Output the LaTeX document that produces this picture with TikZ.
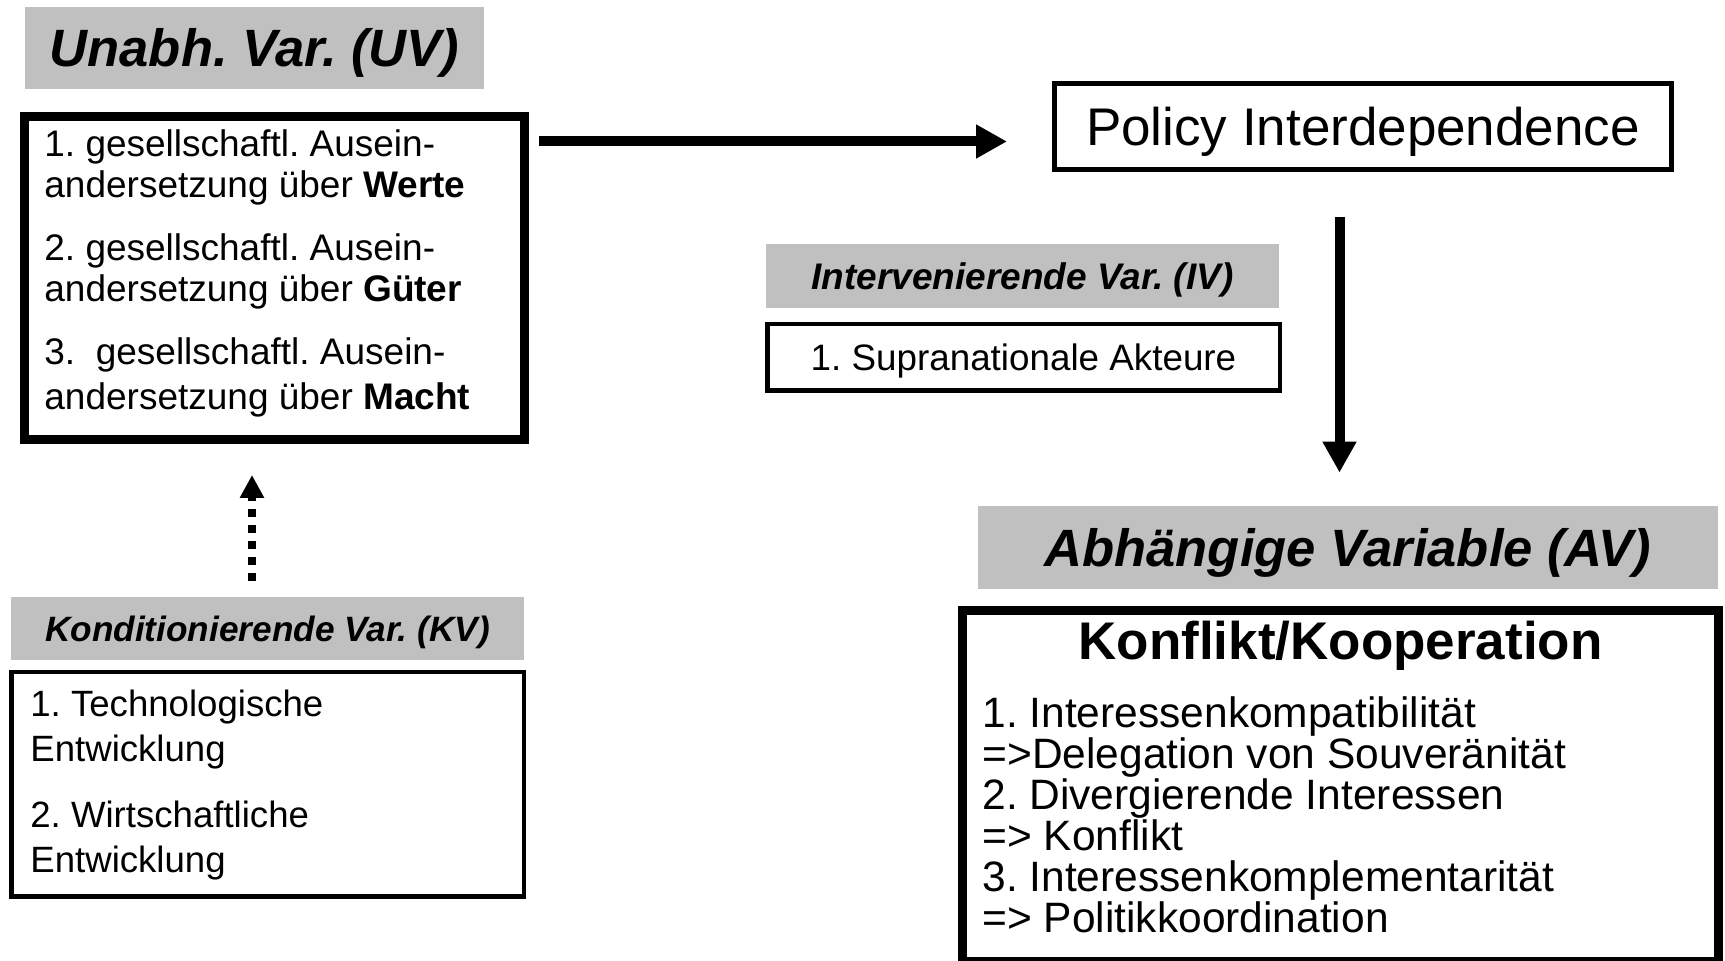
\documentclass[tikz,border=0pt]{standalone}
\usepackage{fontspec}
\setmainfont{Liberation Sans}
\usetikzlibrary{arrows.meta}
\definecolor{hdrgrey}{RGB}{192,192,192}
\frenchspacing
\begin{document}
\frenchspacing
\begin{tikzpicture}[x=0.5pt,y=-0.5pt,
  hdr/.style={fill=hdrgrey, inner sep=0pt, text depth=0pt},
  box/.style={draw=black, inner sep=0pt, fill=white},
  bigarrow/.style={line width=5pt, -{Triangle[length=15.5pt,width=16pt]}},
  dotarrow/.style={line width=4pt, dash pattern=on 4pt off 4pt, -{Triangle[length=11.5pt,width=11.5pt]}},
  bodytext/.style={anchor=base west, inner sep=0pt}
]
\useasboundingbox (0,0) rectangle (1725,961);

% UV
\node[hdr, minimum width=229.5pt, minimum height=41pt, text height=18.8pt,
      font=\bfseries\itshape\fontsize{26.25}{30}\selectfont] (uvh) at (254.5,48) {Unabh. Var. (UV)};
\node[box, line width=4.5pt, minimum width=250pt, minimum height=161.5pt] (uv) at (274.5,278) {};
\node[bodytext] (uvt) at (44,157) {\parbox[t]{240pt}{\raggedright\fontsize{18.5}{20.5}\selectfont
  1. gesellschaftl. Ausein-\\andersetzung über \textbf{Werte}\\[11pt]
  2. gesellschaftl. Ausein-\\andersetzung über \textbf{Güter}\\[11pt]
  3.\ \ gesellschaftl. Ausein-\\[2pt]andersetzung über \textbf{Macht}}};

% Policy Interdependence
\node[box, line width=2.5pt, minimum width=308.5pt, minimum height=43pt, text height=19pt, text depth=0pt,
      font=\fontsize{26.5}{30}\selectfont] (pol) at (1363,126.5) {Policy Interdependence};

% IV
\node[hdr, minimum width=256.5pt, minimum height=32pt, text height=13.2pt,
      font=\bfseries\itshape\fontsize{18.5}{22}\selectfont] (ivh) at (1022.5,276) {Intervenierende Var. (IV)};
\node[box, line width=2.25pt, minimum width=256.25pt, minimum height=33.25pt, text height=13.2pt, text depth=0pt,
      font=\fontsize{18.4}{22}\selectfont] (iv) at (1023.5,357.5) {1. Supranationale Akteure};

% KV
\node[hdr, minimum width=256.5pt, minimum height=31.5pt, text height=12.6pt,
      font=\bfseries\itshape\fontsize{17.6}{21}\selectfont] (kvh) at (267.5,628.5) {Konditionierende Var. (KV)};
\node[box, line width=2.25pt, minimum width=256.25pt, minimum height=112.25pt] (kv) at (267.5,784.5) {};
\node[bodytext] (kvt) at (30,717) {\parbox[t]{240pt}{\raggedright\fontsize{18.3}{22.5}\selectfont
  1. Technologische\\Entwicklung\\[10.5pt]
  2. Wirtschaftliche\\Entwicklung}};

% AV
\node[hdr, minimum width=370pt, minimum height=41.5pt, text height=18.8pt,
      font=\bfseries\itshape\fontsize{26.25}{30}\selectfont] (avh) at (1348,547.5) {Abhängige Variable (AV)};
\node[box, line width=4.5pt, minimum width=378pt, minimum height=175.75pt] (av) at (1340.5,786.25) {};
\node[anchor=base, inner sep=0pt, font=\bfseries\fontsize{26.5}{30}\selectfont] (avtitle) at (1340.5,660) {Konflikt/Kooperation};
\node[bodytext] (avt) at (982,728) {\parbox[t]{370pt}{\raggedright\fontsize{21.25}{20.5}\selectfont
  1. Interessenkompatibilität\\
  =>Delegation von Souveränität\\
  2. Divergierende Interessen\\
  => Konflikt\\
  3. Interessenkomplementarität\\
  => Politikkoordination}};

% connectors
\coordinate (h1) at ([xshift=5pt,yshift=-14.75pt]uv.north east);
\draw[bigarrow, shorten >=22.5pt] (h1) -- (h1 -| pol.west);
\coordinate (v1) at ([xshift=-11.75pt,yshift=-22.5pt]pol.south);
\draw[bigarrow, shorten >=16.5pt] (v1) -- (v1 |- avh.north);
\coordinate (d1) at ([xshift=-7.75pt,yshift=8pt]kvh.north);
\draw[dotarrow, shorten >=15.5pt] (d1) -- (d1 |- uv.south);
\end{tikzpicture}
\end{document}
